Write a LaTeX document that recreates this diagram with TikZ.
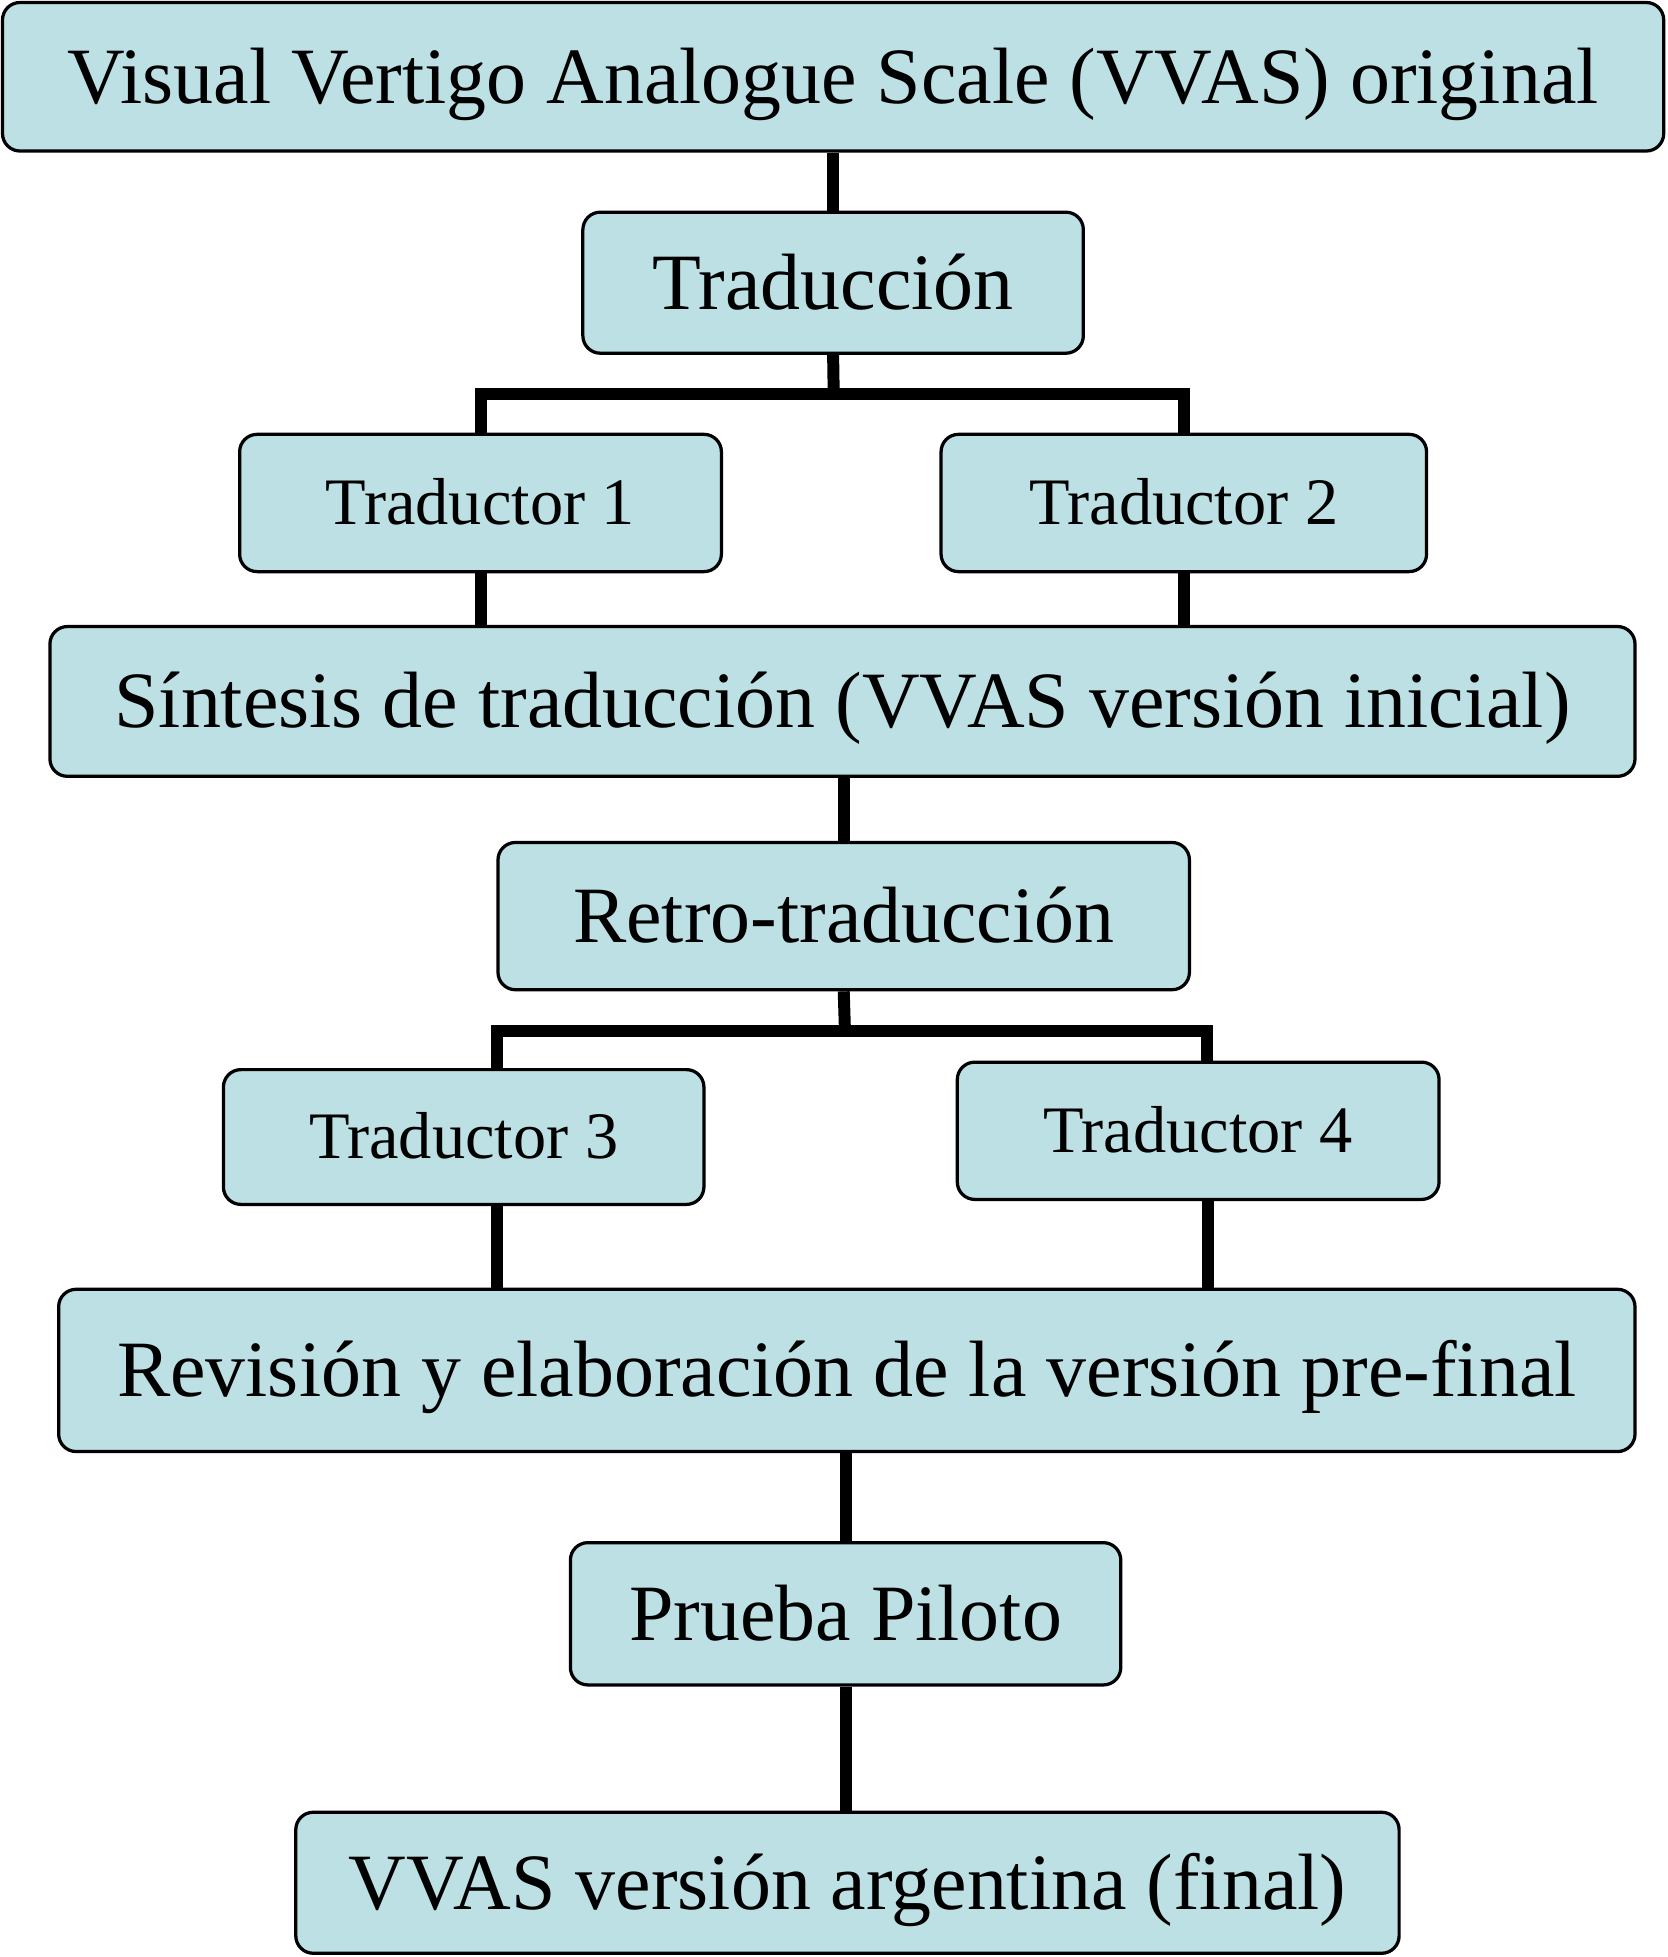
\documentclass[tikz,border=0pt]{standalone}
\usepackage{fontspec}
\setmainfont{Liberation Serif}
\usetikzlibrary{calc}
\definecolor{boxfill}{RGB}{188,224,228}
\tikzset{
  box/.style={draw=black, fill=boxfill, line width=1.3pt, rounded corners=7pt,
    inner sep=0pt, align=center, text height=21.2pt, text depth=0pt,
    font=\fontsize{32pt}{38pt}\selectfont},
  smallbox/.style={box, text height=17.6pt, font=\fontsize{26.6pt}{31pt}\selectfont},
  conn/.style={draw=black, line width=4.8pt}
}
\begin{document}
\begin{tikzpicture}[x=0.5pt,y=-0.5pt]
\useasboundingbox (0,0) rectangle (1336,1568);
\node[box, minimum width=665.5pt, minimum height=59.5pt] (top) at (667.5,61.5) {Visual Vertigo Analogue Scale (VVAS) original};
\node[box, minimum width=200.5pt, minimum height=56.5pt] (trad) at (667.5,226.5) {Traducción};
\node[smallbox, minimum width=193pt, minimum height=55pt] (t1) at (385,403) {Traductor 1};
\node[smallbox, minimum width=194.5pt, minimum height=55pt] (t2) at (948.5,403) {Traductor 2};
\node[box, minimum width=635pt, minimum height=60pt] (sint) at (675,562) {Síntesis de traducción (VVAS versión inicial)};
\node[box, minimum width=277pt, minimum height=59pt] (retro) at (676,734) {Retro-traducción};
\node[smallbox, minimum width=192.5pt, minimum height=54pt] (t3) at (371.5,911) {Traductor 3};
\node[smallbox, minimum width=193pt, minimum height=55pt] (t4) at (960,906) {Traductor 4};
\node[box, minimum width=631.5pt, minimum height=65pt] (rev) at (678.5,1098) {Revisión y elaboración de la versión pre-final};
\node[box, minimum width=220.5pt, minimum height=57pt] (prueba) at (677.5,1293) {Prueba Piloto};
\node[box, minimum width=442pt, minimum height=56.5pt] (final) at (679,1508.5) {VVAS versión argentina (final)};

\coordinate (b1) at (668,316);
\coordinate (b2) at (677,826);
\coordinate (t3c) at ($(t3.north)+(26.5,0)$);
\coordinate (t4c) at ($(t4.north)+(7,0)$);
\coordinate (t3d) at ($(t3.south)+(26.5,0)$);
\coordinate (t4d) at ($(t4.south)+(8,0)$);

\draw[conn] (top.south -| trad.north) -- (trad.north);
\draw[conn] (trad.south) -- (b1);
\draw[conn] (t1.north) |- (b1) -| (t2.north);
\draw[conn] (t1.south) -- (t1.south |- sint.north);
\draw[conn] (t2.south) -- (t2.south |- sint.north);
\draw[conn] (sint.south -| retro.north) -- (retro.north);
\draw[conn] (retro.south) -- (b2);
\draw[conn] (t3c) |- (b2) -| (t4c);
\draw[conn] (t3d) -- (t3d |- rev.north);
\draw[conn] (t4d) -- (t4d |- rev.north);
\draw[conn] (rev.south -| prueba.north) -- (prueba.north);
\draw[conn] (prueba.south) -- (prueba.south |- final.north);
\end{tikzpicture}
\end{document}
